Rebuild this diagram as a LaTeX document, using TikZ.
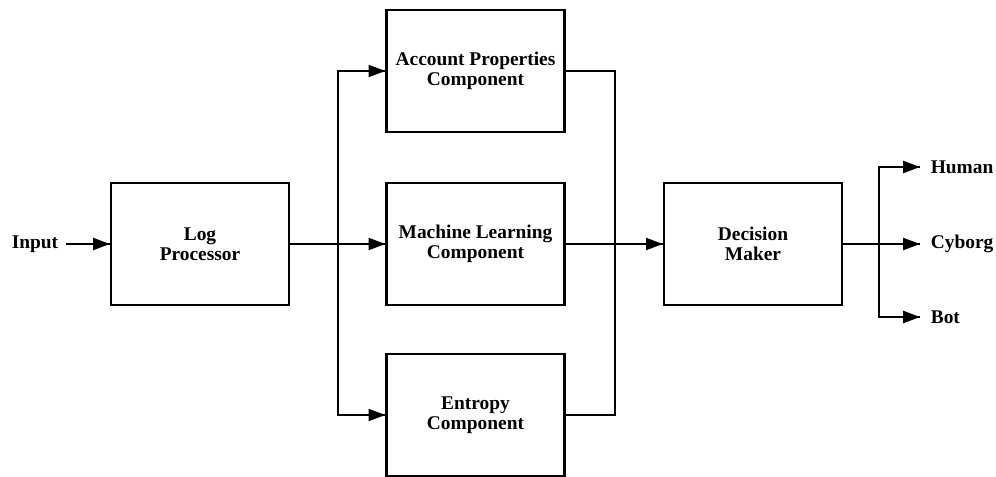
\documentclass[tikz,border=0pt]{standalone}
\usepackage{fontspec}
\setmainfont{Liberation Serif}
\usetikzlibrary{arrows.meta}
\usetikzlibrary{decorations.markings}
\tikzset{->/.style = {decoration={markings,
                                  mark=at position 1 with {\arrow{Triangle[length=4.2mm,width=3mm]}}},
                      postaction={decorate}}}
\tikzset{block/.style = {draw, line width=1.6pt, minimum width=4.45cm, minimum height=3.05cm,
                         align=center, font=\bfseries\fontsize{13.8}{14}\selectfont},
         lbl/.style = {font=\bfseries\fontsize{13.8}{14}\selectfont}}

\begin{document}
\begin{tikzpicture}[x=0.025cm, y=-0.025cm, line width=1.4pt]
    \useasboundingbox (0, 0) rectangle (996, 476);
    % blocks
    \node [block] (log) at (200, 244) {Log\\Processor};
    \node [block] (acct) at (475.5, 71) {Account Properties\\Component};
    \node [block] (ml) at (475.5, 244) {Machine Learning\\Component};
    \node [block] (entropy) at (475.5, 415) {Entropy\\Component};
    \node [block] (decision) at (753, 244) {Decision\\Maker};
    % labels
    \node [lbl, inner xsep=5pt] (input) at (35, 244) {Input};
    \node [lbl, anchor=west, inner xsep=7pt] (human) at (920, 167) {Human};
    \node [lbl, anchor=west, inner xsep=7pt] (cyborg) at (920, 244) {Cyborg};
    \node [lbl, anchor=west, inner xsep=7pt] (bot) at (920, 317) {Bot};
    \coordinate (split) at (338, 244);
    \coordinate (merge) at (615, 244);
    \coordinate (fork) at (879, 244);
    % connections
    \draw [->] (input) -- (log);
    \draw (log) -- (split);
    \draw [->] (split) -- (ml);
    \draw [->] (split) |- (acct);
    \draw [->] (split) |- (entropy);
    \draw (acct.east) -| (merge) |- (entropy.east);
    \draw [->] (ml) -- (decision);
    \draw (decision) -- (fork);
    \draw [->] (fork) -- (cyborg.west);
    \draw [->] (fork) |- (human.west);
    \draw [->] (fork) |- (bot.west);
  \end{tikzpicture}
\end{document}
